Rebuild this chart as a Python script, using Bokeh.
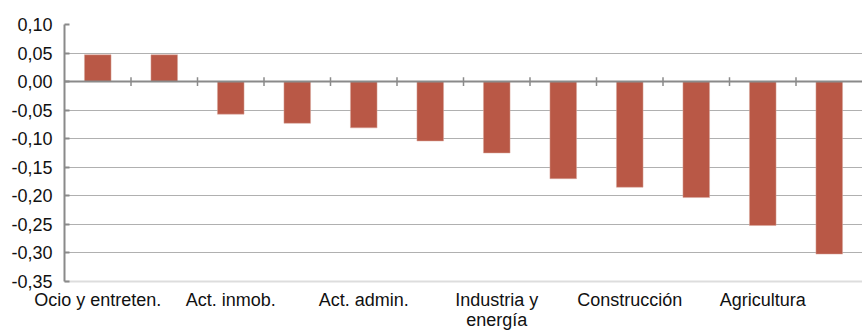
from bokeh.plotting import figure
from bokeh.models import FixedTicker, Range1d, Span
from bokeh.embed import file_html
from bokeh.resources import INLINE

# Data: 12 sectors, only every other one is labelled in the reference
values = [0.047, 0.047, -0.057, -0.073, -0.081, -0.104, -0.125, -0.170, -0.185, -0.203, -0.252, -0.302]
labels = ["Ocio y entreten.", "Act. inmob.", "Act. admin.", "Industria y\nenergía", "Construcción", "Agricultura"]
y_ticks = [0.10, 0.05, 0.00, -0.05, -0.10, -0.15, -0.20, -0.25, -0.30, -0.35]

n = len(values)
xs = [i + 0.5 for i in range(n)]
label_pos = [xs[2 * k] for k in range(len(labels))]

p = figure(width=862, height=335, output_backend="svg", toolbar_location=None,
           x_range=Range1d(0, n), y_range=Range1d(-0.35, 0.10))
p.min_border_left = 64
p.min_border_right = 0
p.min_border_top = 24
p.min_border_bottom = 54
p.outline_line_color = None
p.background_fill_color = "white"
p.border_fill_color = "white"

bar_color = "#B95846"
p.vbar(x=xs, top=values, bottom=0, width=0.4, fill_color=bar_color, line_color="#d9a89e", line_width=0.5)

# zero line with category-boundary ticks
p.add_layout(Span(location=0, dimension="width", line_color="#8a8a8a", line_width=2))
bounds = list(range(1, n))
p.segment(x0=bounds, x1=bounds, y0=[-0.0075] * len(bounds), y1=[0.0075] * len(bounds),
          line_color="#8a8a8a", line_width=1.5)

# y axis
p.yaxis.ticker = FixedTicker(ticks=y_ticks)
p.yaxis.major_label_overrides = {t: f"{t:.2f}".replace(".", ",").replace("-0,00", "0,00") for t in y_ticks}
p.yaxis.axis_line_color = "#8a8a8a"
p.yaxis.axis_line_width = 2
p.yaxis.major_tick_line_color = "#8a8a8a"
p.yaxis.major_tick_line_width = 2
p.yaxis.major_tick_in = 5
p.yaxis.major_tick_out = 0
p.yaxis.minor_tick_line_color = None
p.yaxis.major_label_text_font = "Liberation Sans"
p.yaxis.major_label_text_font_size = "18px"
p.yaxis.major_label_text_color = "#111111"
p.yaxis.major_label_standoff = 12

# x axis
p.xaxis.ticker = FixedTicker(ticks=label_pos)
p.xaxis.major_label_overrides = {pos: lab for pos, lab in zip(label_pos, labels)}
p.xaxis.axis_line_color = "#dddddd"
p.xaxis.axis_line_width = 2
p.xaxis.major_tick_line_color = None
p.xaxis.major_tick_in = 0
p.xaxis.major_tick_out = 0
p.xaxis.minor_tick_line_color = None
p.xaxis.major_label_text_font = "Liberation Sans"
p.xaxis.major_label_text_font_size = "18px"
p.xaxis.major_label_text_line_height = 1.0
p.xaxis.major_label_text_color = "#111111"
p.xaxis.major_label_standoff = 8

p.xgrid.grid_line_color = None
p.ygrid.grid_line_color = "#b0b0b0"
p.ygrid.grid_line_width = 1

open("out.html", "w").write(file_html(p, INLINE))
